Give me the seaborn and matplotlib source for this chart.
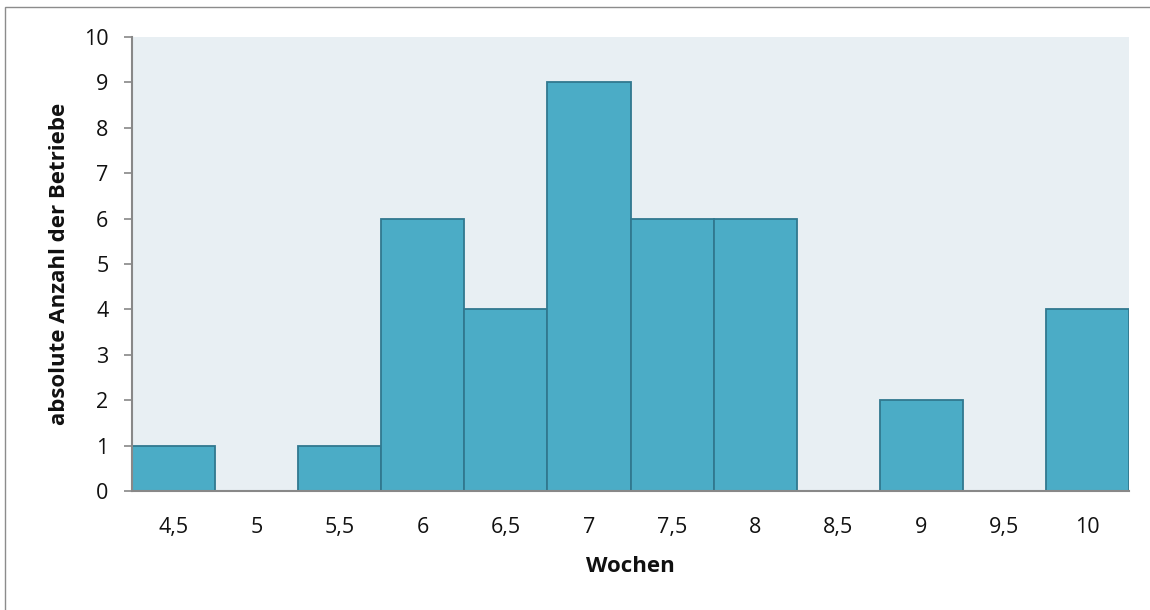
import matplotlib
matplotlib.use("Agg")
import matplotlib.pyplot as plt
import seaborn as sns
import pandas as pd
from matplotlib.patches import Rectangle

# Weeks (class midpoints) and number of firms per class
wochen = ["4,5", "5", "5,5", "6", "6,5", "7", "7,5", "8", "8,5", "9", "9,5", "10"]
anzahl = [1, 0, 1, 6, 4, 9, 6, 6, 0, 2, 0, 4]
y_ticks = [0, 1, 2, 3, 4, 5, 6, 7, 8, 9, 10]

df = pd.DataFrame({"Wochen": wochen, "Anzahl": anzahl})

sns.set_theme(style="white")
plt.rcParams["font.family"] = ["Open Sans", "DejaVu Sans"]

fig = plt.figure(figsize=(11.5, 6.1), dpi=100)
ax = fig.add_axes([132 / 1150, 1 - 491 / 610, (1129 - 132) / 1150, (491 - 37) / 610])

sns.barplot(data=df, x="Wochen", y="Anzahl", order=wochen, ax=ax,
            color="#4BACC6", saturation=1, width=1.0,
            edgecolor="#31788F", linewidth=1.3)

ax.set_facecolor("#E8EFF3")
ax.set_xlim(-0.5, len(wochen) - 0.5)
ax.set_ylim(0, 10)
ax.set_yticks(y_ticks)
ax.set_yticklabels([str(v) for v in y_ticks])

for side in ["top", "right"]:
    ax.spines[side].set_visible(False)
for side in ["left", "bottom"]:
    ax.spines[side].set_color("#888888")
    ax.spines[side].set_linewidth(1.5)

ax.tick_params(axis="y", which="major", left=True, length=6, width=1.2,
               color="#888888", labelsize=15.5, pad=11, labelcolor="#111111")
ax.tick_params(axis="x", which="major", bottom=False, labelsize=15.5, pad=13,
               labelcolor="#111111")

ax.set_xlabel("Wochen", fontsize=16, fontweight="bold", labelpad=13, color="#111111")
ax.set_ylabel("absolute Anzahl der Betriebe", fontsize=16, fontweight="bold",
              labelpad=10, color="#111111")

# Outer chart frame
fig.patches.append(Rectangle((5 / 1150, -0.01), 1.02, 1 - 7 / 610 + 0.01,
                             transform=fig.transFigure, fill=False,
                             edgecolor="#8C8C8C", linewidth=1.0))

fig.savefig("out.png", dpi=100)
